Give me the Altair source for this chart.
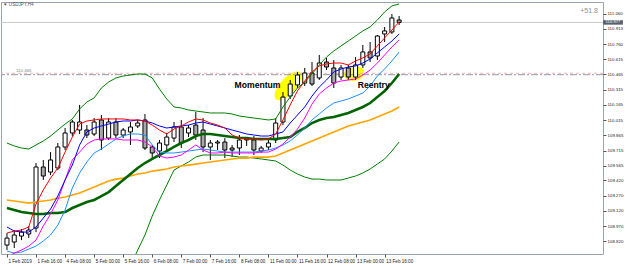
import altair as alt
import pandas as pd

# ---------------- data ----------------
time_labels = ["1 Feb 2019", "1 Feb 16:00", "4 Feb 08:00", "5 Feb 00:00", "5 Feb 16:00",
               "6 Feb 08:00", "7 Feb 00:00", "7 Feb 16:00", "8 Feb 08:00", "11 Feb 00:00",
               "11 Feb 16:00", "12 Feb 08:00", "13 Feb 00:00", "13 Feb 16:00"]
label_bars = [0, 4, 8, 12, 16, 20, 24, 28, 32, 36, 40, 44, 48, 52]
price_ticks = [111.060, 110.913, 110.760, 110.615, 110.465, 110.315, 110.165, 110.015,
               109.865, 109.715, 109.565, 109.420, 109.270, 109.120, 108.970, 108.820, 108.670]

open_p = [108.784, 108.814, 108.873, 108.893, 108.952, 109.553, 109.503, 109.543, 109.750, 109.888,
          109.917, 109.917, 109.878, 110.016, 109.838, 109.996, 109.868, 109.898, 109.957, 110.016,
          109.750, 109.710, 109.770, 109.838, 109.947, 109.888, 109.966, 109.917, 109.750, 109.789,
          109.799, 109.740, 109.740, 109.819, 109.819, 109.710, 109.750, 109.819, 109.996, 110.252,
          110.361, 110.380, 110.479, 110.430, 110.587, 110.528, 110.439, 110.528, 110.439, 110.558,
          110.686, 110.646, 110.863, 110.883, 111.001]
high_p = [108.902, 108.932, 108.942, 108.972, 109.592, 109.622, 109.700, 109.789, 109.937, 110.016,
          110.164, 109.966, 110.035, 110.065, 110.035, 110.035, 109.937, 109.996, 110.016, 110.075,
          109.770, 109.819, 109.888, 109.996, 110.016, 109.966, 110.095, 110.035, 109.819, 109.819,
          109.838, 109.770, 109.868, 109.848, 109.858, 109.760, 109.819, 110.035, 110.292, 110.410,
          110.489, 110.528, 110.587, 110.656, 110.627, 110.607, 110.558, 110.558, 110.636, 110.755,
          110.784, 110.853, 110.932, 111.060, 111.040]
low_p = [108.735, 108.755, 108.833, 108.853, 108.912, 109.425, 109.474, 109.523, 109.720, 109.858,
         109.878, 109.838, 109.858, 109.720, 109.819, 109.838, 109.838, 109.770, 109.937, 109.720,
         109.622, 109.641, 109.720, 109.799, 109.740, 109.848, 109.819, 109.700, 109.622, 109.720,
         109.641, 109.651, 109.671, 109.760, 109.671, 109.691, 109.720, 109.789, 109.966, 110.223,
         110.331, 110.351, 110.351, 110.410, 110.508, 110.331, 110.410, 110.410, 110.410, 110.528,
         110.587, 110.607, 110.784, 110.863, 110.952]
close_p = [108.853, 108.883, 108.912, 108.932, 109.553, 109.464, 109.622, 109.750, 109.888, 109.996,
           109.996, 109.868, 109.996, 109.819, 109.996, 109.868, 109.917, 109.947, 109.986, 109.740,
           109.691, 109.789, 109.848, 109.947, 109.789, 109.937, 109.868, 109.750, 109.789, 109.799,
           109.720, 109.720, 109.819, 109.829, 109.720, 109.740, 109.789, 109.986, 110.242, 110.370,
           110.459, 110.479, 110.370, 110.577, 110.538, 110.380, 110.528, 110.439, 110.558, 110.686,
           110.627, 110.843, 110.893, 111.021, 110.977]

ma_red = [108.902, 108.922, 108.932, 108.962, 109.188, 109.326, 109.444, 109.543, 109.700, 109.848,
          109.976, 110.006, 110.016, 110.026, 110.026, 110.026, 110.026, 110.016, 110.016, 110.006,
          109.966, 109.917, 109.878, 109.927, 109.957, 109.996, 110.026, 110.016, 109.986, 109.966,
          109.937, 109.868, 109.838, 109.829, 109.829, 109.819, 109.829, 109.878, 110.016, 110.164,
          110.302, 110.400, 110.489, 110.548, 110.568, 110.577, 110.577, 110.558, 110.597, 110.627,
          110.666, 110.745, 110.824, 110.902, 110.981]
ma_blue = [108.962, 108.922, 108.912, 108.912, 108.962, 109.050, 109.139, 109.267, 109.425, 109.572,
           109.770, 109.898, 109.937, 109.957, 109.976, 109.996, 110.006, 110.006, 110.016, 110.006,
           109.986, 109.957, 109.937, 109.947, 109.957, 109.966, 109.986, 109.996, 109.976, 109.957,
           109.937, 109.917, 109.898, 109.878, 109.868, 109.858, 109.858, 109.878, 109.898, 109.986,
           110.065, 110.144, 110.252, 110.341, 110.410, 110.489, 110.518, 110.538, 110.548, 110.577,
           110.617, 110.676, 110.735, 110.794, 110.863]
ma_magenta = [108.666, 108.705, 108.735, 108.774, 108.833, 108.972, 109.090, 109.228, 109.425, 109.622,
              109.700, 109.779, 109.819, 109.829, 109.829, 109.829, 109.819, 109.819, 109.819, 109.799,
              109.750, 109.661, 109.641, 109.651, 109.671, 109.720, 109.770, 109.720, 109.691, 109.691,
              109.700, 109.691, 109.691, 109.691, 109.691, 109.700, 109.700, 109.730, 109.779, 109.848,
              109.927, 110.035, 110.173, 110.272, 110.331, 110.380, 110.400, 110.410, 110.420, 110.459,
              110.508, 110.577, 110.656, 110.735, 110.804]
ma_lightblue = [108.725, 108.705, 108.715, 108.745, 108.774, 108.824, 108.883, 108.981, 109.129, 109.346,
                109.494, 109.602, 109.691, 109.730, 109.779, 109.829, 109.858, 109.878, 109.878, 109.868,
                109.770, 109.700, 109.691, 109.691, 109.700, 109.710, 109.720, 109.730, 109.720, 109.710,
                109.700, 109.700, 109.700, 109.700, 109.700, 109.710, 109.720, 109.740, 109.770, 109.809,
                109.868, 109.937, 110.016, 110.075, 110.134, 110.183, 110.203, 110.223, 110.252, 110.282,
                110.351, 110.449, 110.518, 110.597, 110.686]
band_mid = [109.149, 109.129, 109.109, 109.100, 109.090, 109.090, 109.100, 109.100, 109.109, 109.149,
            109.178, 109.208, 109.228, 109.267, 109.306, 109.366, 109.425, 109.484, 109.543, 109.592,
            109.632, 109.671, 109.710, 109.750, 109.789, 109.819, 109.858, 109.878, 109.878, 109.868,
            109.858, 109.848, 109.838, 109.838, 109.829, 109.829, 109.829, 109.829, 109.838, 109.848,
            109.898, 109.937, 109.986, 110.016, 110.035, 110.045, 110.065, 110.085, 110.114, 110.144,
            110.183, 110.242, 110.302, 110.380, 110.469]
ma_orange = [109.228, 109.218, 109.208, 109.198, 109.208, 109.218, 109.228, 109.247, 109.257, 109.277,
             109.297, 109.326, 109.356, 109.385, 109.415, 109.434, 109.444, 109.464, 109.484, 109.494,
             109.513, 109.523, 109.533, 109.553, 109.563, 109.572, 109.582, 109.592, 109.602, 109.612,
             109.622, 109.632, 109.641, 109.641, 109.651, 109.651, 109.651, 109.661, 109.691, 109.720,
             109.750, 109.779, 109.809, 109.838, 109.868, 109.898, 109.927, 109.957, 109.976, 109.996,
             110.016, 110.045, 110.075, 110.104, 110.144]
band_upper = [109.789, 109.760, 109.740, 109.730, 109.770, 109.809, 109.858, 109.917, 109.976, 110.026,
              110.124, 110.193, 110.233, 110.331, 110.390, 110.430, 110.449, 110.459, 110.469, 110.469,
              110.430, 110.321, 110.223, 110.144, 110.134, 110.114, 110.104, 110.095, 110.085, 110.085,
              110.085, 110.075, 110.055, 110.045, 110.035, 110.026, 110.016, 110.026, 110.144, 110.242,
              110.331, 110.390, 110.469, 110.558, 110.636, 110.696, 110.745, 110.794, 110.843, 110.893,
              110.932, 111.001, 111.080, 111.139, 111.159]
band_lower = [108.508, 108.499, 108.479, 108.469, 108.410, 108.370, 108.341, 108.282, 108.242, 108.272,
              108.233, 108.223, 108.223, 108.203, 108.223, 108.302, 108.400, 108.577, 108.735, 108.883,
              109.070, 109.228, 109.375, 109.523, 109.563, 109.602, 109.651, 109.671, 109.671, 109.671,
              109.671, 109.661, 109.651, 109.651, 109.641, 109.632, 109.622, 109.612, 109.572, 109.523,
              109.484, 109.454, 109.434, 109.434, 109.425, 109.425, 109.425, 109.444, 109.464, 109.494,
              109.533, 109.582, 109.632, 109.710, 109.799]

bid_price = 110.977
level_gray = 110.462
level_pink = 110.476

note_labels = ["Momentum", "Reentry"]
note_bars = [34.5, 50.5]
note_prices = [110.361, 110.361]
momentum_spot = {"bar": [38.7], "price": [110.351]}
reentry_spot = {"bar": [47.8], "price": [110.474]}

# ---------------- tables ----------------
n = len(open_p)
for arr in [high_p, low_p, close_p, ma_red, ma_blue, ma_magenta, ma_lightblue, band_mid,
            ma_orange, band_upper, band_lower]:
    assert len(arr) == n, len(arr)

df = pd.DataFrame({
    "bar": list(range(n)), "open": open_p, "high": high_p, "low": low_p, "close": close_p,
    "red": ma_red, "blue": ma_blue, "magenta": ma_magenta, "lightblue": ma_lightblue,
    "mid": band_mid, "orange": ma_orange, "upper": band_upper, "lower": band_lower,
})
df["trend"] = ["up" if c >= o else "down" for o, c in zip(open_p, close_p)]

notes = pd.DataFrame({"bar": note_bars, "price": note_prices, "label": note_labels})

# ---------------- scales / axes ----------------
FONT = "Liberation Sans"
xscale = alt.Scale(domain=[-0.135, 81.38], nice=False, zero=False)
yscale = alt.Scale(domain=[108.696, 111.178], nice=False, zero=False)

label_js = "[" + ",".join("'" + t + "'" for t in time_labels) + "]"
xaxis = alt.Axis(values=label_bars, labelExpr=label_js + "[round(datum.value / 4)]",
                 labelAlign="left", labelBaseline="top", labelFontSize=4.6, labelFont=FONT,
                 labelColor="#222222", tickSize=3, tickColor="#555555", labelPadding=1,
                 labelOffset=1, domain=False, grid=False, title=None, labelOverlap=False,
                 labelFlush=False, labelBound=False)
yaxis = alt.Axis(orient="right", values=price_ticks, format=".3f", labelFontSize=4.4,
                 labelFont=FONT, labelColor="#222222", tickSize=3, tickColor="#555555",
                 labelPadding=1, domain=False, grid=False, title=None, labelOverlap=False,
                 labelFlush=False, labelBound=False)


def X(field="bar"):
    return alt.X(f"{field}:Q", scale=xscale, axis=xaxis)


def Y(field):
    return alt.Y(f"{field}:Q", scale=yscale, axis=yaxis)


base = alt.Chart(df)

# highlighter blobs
ellipse_long = "M -1 0 A 1 0.44 0 1 1 1 0 A 1 0.44 0 1 1 -1 0 Z"
ellipse_round = "M -1 0 A 1 0.72 0 1 1 1 0 A 1 0.72 0 1 1 -1 0 Z"
hl_momentum = alt.Chart(pd.DataFrame(momentum_spot)).mark_point(
    shape=ellipse_long, size=1300, angle=312, filled=True, fill="#ffff00",
    strokeWidth=0, opacity=1).encode(x=X(), y=Y("price"))
hl_reentry = alt.Chart(pd.DataFrame(reentry_spot)).mark_point(
    shape=ellipse_round, size=420, angle=350, filled=True, fill="#ffff00",
    strokeWidth=0, opacity=1).encode(x=X(), y=Y("price"))

# horizontal lines
bid_line = alt.Chart(pd.DataFrame({"price": [bid_price]})).mark_rule(
    color="#c8c8c8", strokeWidth=1).encode(y=Y("price"))
pink_line = alt.Chart(pd.DataFrame({"price": [level_pink]})).mark_rule(
    color="#f2b3bb", strokeWidth=1, strokeDash=[3, 3]).encode(y=Y("price"))
gray_line = alt.Chart(pd.DataFrame({"price": [level_gray]})).mark_rule(
    color="#8f9aa6", strokeWidth=1, strokeDash=[7, 2, 2, 2]).encode(y=Y("price"))

# candles
wicks = base.mark_rule(color="#000000", strokeWidth=1).encode(
    x=X(), y=Y("low"), y2=alt.Y2("high"))
bodies = base.mark_bar(size=4, stroke="#000000", strokeWidth=1).encode(
    x=X(), y=Y("open"), y2=alt.Y2("close"),
    fill=alt.Fill("trend:N", scale=alt.Scale(domain=["up", "down"], range=["#ffffff", "#a9a9a9"]),
                  legend=None))


def line(field, color, width):
    return base.mark_line(color=color, strokeWidth=width, clip=True,
                          interpolate="linear").encode(x=X(), y=Y(field))


lines = [
    line("upper", "#008000", 1),
    line("lower", "#008000", 1),
    line("orange", "#ffa500", 1.7),
    line("mid", "#006400", 2.6),
    line("lightblue", "#1e90ff", 1),
    line("magenta", "#ff00ff", 1),
    line("blue", "#0000ff", 1),
    line("red", "#ff0000", 1),
]

note_text = alt.Chart(notes).mark_text(font=FONT, fontWeight="bold", fontSize=8.6,
                                       color="#000000", align="center",
                                       baseline="middle").encode(
    x=X(), y=Y("price"), text="label:N")

# header texts and bid label
symbol_text = alt.Chart(pd.DataFrame({"t": ["\u25bc USDJPY,H4"]})).mark_text(
    font=FONT, fontSize=4.6, color="#555555", align="left", baseline="middle").encode(
    text="t:N", x=alt.value(2), y=alt.value(3))
pips_text = alt.Chart(pd.DataFrame({"t": ["+51.8"]})).mark_text(
    font=FONT, fontSize=7, color="#8493a3", align="right", baseline="middle").encode(
    text="t:N", x=alt.value(597), y=alt.value(8.5))
level_text = alt.Chart(pd.DataFrame({"t": ["110.465"], "price": [level_pink]})).mark_text(
    font=FONT, fontSize=4.4, color="#7a8590", align="left", baseline="bottom", dy=-0.5).encode(
    text="t:N", x=alt.value(15), y=Y("price"))

bid_box = alt.Chart(pd.DataFrame({"price": [bid_price]})).mark_point(
    shape="M -4.4 -1 L 4.4 -1 L 4.4 1 L -4.4 1 Z", size=20.25, filled=True,
    fill="#56616e", strokeWidth=0, opacity=1).encode(x=alt.value(612), y=Y("price"))
bid_text = alt.Chart(pd.DataFrame({"price": [bid_price], "t": ["110.977"]})).mark_text(
    font=FONT, fontSize=4.2, color="#ffffff", align="center", baseline="middle").encode(
    x=alt.value(612), y=Y("price"), text="t:N")

chart = alt.layer(
    hl_momentum, hl_reentry, bid_line, pink_line, gray_line, level_text,
    wicks, bodies, *lines, note_text, symbol_text, pips_text, bid_box, bid_text,
).properties(
    width=602, height=252, autosize="none",
    padding={"left": 1, "top": 2, "right": 22, "bottom": 14},
    background="#ffffff",
).configure_view(stroke="#9aa4ae", strokeWidth=1)

chart.save("out.html", embed_options={"renderer": "svg", "actions": False})
